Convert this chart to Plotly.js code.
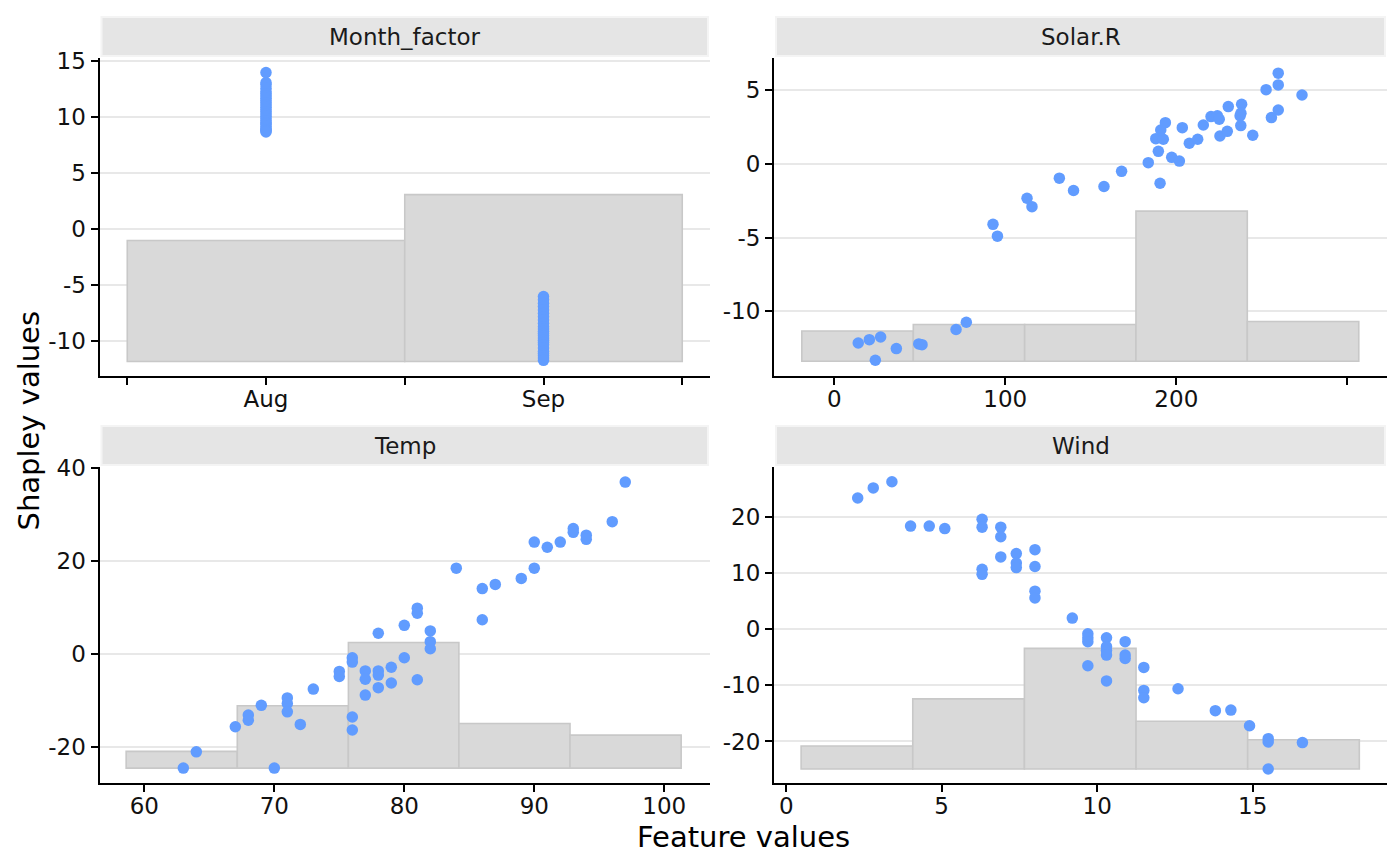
<!DOCTYPE html>
<html>
<head>
<meta charset="utf-8">
<script src="https://cdn.plot.ly/plotly-3.0.1.min.js"></script>
<style>html,body{margin:0;padding:0;background:#fff;}#chart{width:1400px;height:866px;}</style>
</head>
<body>
<div id="chart"></div>
<script>
// ---------------- data ----------------
const facetNames = ['Month_factor', 'Solar.R', 'Temp', 'Wind'];

// Month_factor
const monthCategories = ['Aug', 'Sep'];
const monthAugShap = [14.0, 13.1, 12.9, 12.6, 12.3, 12.1, 11.9, 11.7, 11.5, 11.3, 11.1, 10.9, 10.7, 10.5, 10.3, 10.1, 9.9, 9.7, 9.5, 9.4, 9.2, 9.0, 8.9, 8.8, 8.7];
const monthSepShap = [-6.0, -6.3, -6.6, -6.9, -7.2, -7.5, -7.8, -8.1, -8.4, -8.7, -8.9, -9.1, -9.3, -9.5, -9.7, -9.9, -10.1, -10.3, -10.6, -10.9, -11.1, -11.3, -11.5, -11.7];
const monthBarTops = [-1.0, 3.1];
const monthBarBase = -11.8;
const monthXTickVals = [0.5, 1, 1.5, 2, 2.5];
const monthXTickText = ['', 'Aug', '', 'Sep', ''];
const monthYTickVals = [-10, -5, 0, 5, 10, 15];
const monthYTickText = ['-10', '-5', '0', '5', '10', '15'];

// Solar.R
const solarX = [14.0, 20.5, 27.1, 24.0, 36.3, 49.4, 51.3, 71.2, 77.2,
  92.8, 95.4, 112.7, 115.6, 131.6, 139.9, 157.7, 168.0,
  183.6, 190.5, 189.5, 188.0, 192.4, 190.9, 193.6, 197.3, 201.8, 203.5, 207.6, 212.5, 215.8, 220.3, 224.0, 225.1, 225.5, 229.8, 230.4,
  238.2, 237.8, 237.3, 237.7, 244.7, 252.5, 255.6, 259.6, 259.6, 259.6, 273.5];
const solarShap = [-12.16, -11.93, -11.75, -13.33, -12.54, -12.22, -12.27, -11.24, -10.75,
  -4.1, -4.9, -2.33, -2.9, -0.96, -1.8, -1.53, -0.5,
  0.09, -1.31, 0.86, 1.72, 1.68, 2.31, 2.81, 0.45, 0.2, 2.47, 1.41, 1.68, 2.65, 3.22, 3.27, 3.04, 1.9, 2.22, 3.9,
  4.06, 3.45, 3.27, 2.61, 1.95, 5.05, 3.15, 6.17, 5.37, 3.67, 4.69];
const solarBinEdges = [-19.0, 46.2, 111.3, 176.4, 241.5, 306.7];
const solarBarTops = [-11.34, -10.9, -10.9, -3.2, -10.7];
const solarBarBase = -13.4;
const solarXTickVals = [0, 100, 200, 300];
const solarXTickText = ['0', '100', '200', ''];
const solarYTickVals = [-10, -5, 0, 5];
const solarYTickText = ['-10', '-5', '0', '5'];

// Temp
const tempX = [63, 64, 67, 68, 68, 69, 70, 71, 71, 71, 72, 73, 75, 75, 76, 76, 76, 76, 77, 77, 77, 78, 78, 78, 78, 79, 79, 80, 80, 81, 81, 81, 82, 82, 82,
  84, 86, 86, 87, 89, 90, 90, 91, 92, 93, 93, 94, 94, 96, 97];
const tempShap = [-24.6, -21.1, -15.7, -13.2, -14.3, -11.1, -24.6, -9.5, -10.7, -12.5, -15.2, -7.6, -3.8, -4.9, -0.86, -1.8, -13.6, -16.4, -3.7, -5.5, -8.9, 4.4, -3.7, -4.6, -7.3, -2.9, -6.3, 6.1, -0.86, 9.8, 8.7, -5.6, 4.9, 2.6, 1.07,
  18.4, 14.0, 7.3, 14.9, 16.2, 18.4, 24.0, 22.9, 24.0, 26.9, 26.1, 25.5, 24.6, 28.4, 36.9];
const tempBinEdges = [58.6, 67.15, 75.7, 84.2, 92.75, 101.3];
const tempBarTops = [-21.0, -11.2, 2.4, -15.0, -17.5];
const tempBarBase = -24.6;
const tempXTickVals = [60, 70, 80, 90, 100];
const tempXTickText = ['60', '70', '80', '90', '100'];
const tempYTickVals = [-20, 0, 20, 40];
const tempYTickText = ['-20', '0', '20', '40'];

// Wind
const windX = [2.3, 2.8, 3.4, 4.0, 4.6, 5.1, 6.3, 6.3, 6.3, 6.3, 6.9, 6.9, 6.9, 7.4, 7.4, 7.4, 8.0, 8.0, 8.0, 8.0, 9.2,
  9.7, 9.7, 9.7, 9.7, 10.3, 10.3, 10.3, 10.3, 10.3, 10.9, 10.9, 10.9, 11.5, 11.5, 11.5, 12.6, 13.8, 14.3, 14.9, 15.5, 15.5, 15.5, 16.6];
const windShap = [23.4, 25.2, 26.3, 18.4, 18.4, 17.95, 19.6, 18.2, 10.7, 9.8, 18.2, 16.5, 12.9, 13.5, 11.8, 11.0, 14.2, 11.2, 6.8, 5.6, 2.0,
  -0.8, -1.5, -2.2, -6.5, -1.5, -3.1, -3.8, -4.6, -9.2, -2.2, -4.6, -5.2, -6.8, -10.9, -12.2, -10.6, -14.5, -14.4, -17.2, -19.5, -20.1, -24.9, -20.2];
const windBinEdges = [0.48, 4.07, 7.66, 11.25, 14.84, 18.43];
const windBarTops = [-20.8, -12.4, -3.4, -16.4, -19.7];
const windBarBase = -24.9;
const windXTickVals = [0, 5, 10, 15];
const windXTickText = ['0', '5', '10', '15'];
const windYTickVals = [-20, -10, 0, 10, 20];
const windYTickText = ['-20', '-10', '0', '10', '20'];

// ---------------- styling / layout ----------------
const W = 1400, H = 866;
const POINT = '#619CFF';
const BARFILL = '#d9d9d9';
const BARLINE = '#c8c8c8';
const FONT = 'DejaVu Sans, sans-serif';
const TICKSIZE = 23;

const colL = [99.5, 710], colR = [774, 1387];
const rowT = [58, 376], rowB = [467, 783];
const px2x = p => p / W;
const px2y = p => 1 - p / H;

function histTrace(edges, tops, base, ax) {
  const centers = [], widths = [], heights = [];
  for (let i = 0; i < tops.length; i++) {
    centers.push((edges[i] + edges[i + 1]) / 2);
    widths.push(edges[i + 1] - edges[i]);
    heights.push(tops[i] - base);
  }
  return {
    type: 'bar', x: centers, y: heights, base: base, width: widths,
    xaxis: 'x' + ax, yaxis: 'y' + ax,
    marker: {color: BARFILL, line: {color: BARLINE, width: 1.6}},
    hoverinfo: 'skip'
  };
}
function pointTrace(xs, ys, ax) {
  return {
    type: 'scatter', mode: 'markers', x: xs, y: ys,
    xaxis: 'x' + ax, yaxis: 'y' + ax,
    marker: {color: POINT, size: 11.5, line: {width: 0}},
    hoverinfo: 'skip'
  };
}

// month categories mapped to their positions on the axis
const monthPos = monthCategories.map((c, i) => i + 1);
const monthEdges = [monthPos[0] - 0.5, monthPos[0] + 0.5, monthPos[1] + 0.5];
const monthPtX = monthAugShap.map(() => monthPos[0]).concat(monthSepShap.map(() => monthPos[1]));
const monthPtY = monthAugShap.concat(monthSepShap);

const traces = [
  histTrace(monthEdges, monthBarTops, monthBarBase, ''),
  pointTrace(monthPtX, monthPtY, ''),
  histTrace(solarBinEdges, solarBarTops, solarBarBase, '2'),
  pointTrace(solarX, solarShap, '2'),
  histTrace(tempBinEdges, tempBarTops, tempBarBase, '3'),
  pointTrace(tempX, tempShap, '3'),
  histTrace(windBinEdges, windBarTops, windBarBase, '4'),
  pointTrace(windX, windShap, '4')
];

function xax(dom, range, tv, tt, anchor) {
  return {
    domain: [px2x(dom[0]), px2x(dom[1])], range: range, anchor: anchor,
    showgrid: false, zeroline: false, showline: true, linecolor: '#000', linewidth: 2,
    ticks: 'outside', ticklen: 7, tickwidth: 2, tickcolor: '#000',
    ticklabelstandoff: -6,
    tickmode: 'array', tickvals: tv, ticktext: tt,
    tickfont: {family: FONT, size: TICKSIZE, color: '#111'}, fixedrange: true
  };
}
function yax(dom, range, tv, tt, anchor) {
  return {
    domain: [px2y(dom[1]), px2y(dom[0])], range: range, anchor: anchor,
    showgrid: true, gridcolor: '#e8e8e8', gridwidth: 2, zeroline: false,
    showline: true, linecolor: '#000', linewidth: 2,
    ticks: 'outside', ticklen: 7, tickwidth: 2, tickcolor: '#000',
    tickmode: 'array', tickvals: tv, ticktext: tt,
    tickfont: {family: FONT, size: TICKSIZE, color: '#111'}, fixedrange: true
  };
}

const stripT = [17, 56], stripB = [426, 465];
const panels = [
  {name: facetNames[0], col: colL, strip: stripT},
  {name: facetNames[1], col: colR, strip: stripT},
  {name: facetNames[2], col: colL, strip: stripB},
  {name: facetNames[3], col: colR, strip: stripB}
];
const shapes = [], annotations = [];
panels.forEach(p => {
  shapes.push({type: 'rect', xref: 'paper', yref: 'paper',
    x0: px2x(p.col[0] + 1), x1: px2x(p.col[1] - 1), y0: px2y(p.strip[1] + 1), y1: px2y(p.strip[0] - 1),
    fillcolor: '#f4f4f4', line: {width: 0}, layer: 'below'});
  shapes.push({type: 'rect', xref: 'paper', yref: 'paper',
    x0: px2x(p.col[0] + 3), x1: px2x(p.col[1] - 3), y0: px2y(p.strip[1] - 1), y1: px2y(p.strip[0] + 1),
    fillcolor: '#e5e5e5', line: {width: 0}, layer: 'below'});
  annotations.push({text: p.name, xref: 'paper', yref: 'paper', showarrow: false,
    x: px2x((p.col[0] + p.col[1]) / 2), y: px2y((p.strip[0] + p.strip[1]) / 2),
    xanchor: 'center', yanchor: 'middle', font: {family: FONT, size: TICKSIZE, color: '#1a1a1a'}});
});
annotations.push({text: 'Feature values', xref: 'paper', yref: 'paper', showarrow: false,
  x: px2x((colL[0] + colR[1]) / 2), y: px2y(837), xanchor: 'center', yanchor: 'middle',
  font: {family: FONT, size: 29, color: '#000'}});
annotations.push({text: 'Shapley values', xref: 'paper', yref: 'paper', showarrow: false, textangle: -90,
  x: px2x(28), y: px2y((rowT[0] + rowB[1]) / 2), xanchor: 'center', yanchor: 'middle',
  font: {family: FONT, size: 29, color: '#000'}});

const layout = {
  width: W, height: H, margin: {l: 0, r: 0, t: 0, b: 0},
  paper_bgcolor: '#fff', plot_bgcolor: '#fff', showlegend: false,
  font: {family: FONT},
  xaxis: xax(colL, [0.4, 2.6], monthXTickVals, monthXTickText, 'y'),
  yaxis: yax(rowT, [-13.1, 15.3], monthYTickVals, monthYTickText, 'x'),
  xaxis2: xax(colR, [-35.26, 323.2], solarXTickVals, solarXTickText, 'y2'),
  yaxis2: yax(rowT, [-14.4, 7.2], solarYTickVals, solarYTickText, 'x2'),
  xaxis3: xax(colL, [56.55, 103.52], tempXTickVals, tempXTickText, 'y3'),
  yaxis3: yax(rowB, [-27.8, 40.15], tempYTickVals, tempYTickText, 'x3'),
  xaxis4: xax(colR, [-0.392, 19.32], windXTickVals, windXTickText, 'y4'),
  yaxis4: yax(rowB, [-27.4, 28.93], windYTickVals, windYTickText, 'x4'),
  shapes: shapes, annotations: annotations
};

Plotly.newPlot('chart', traces, layout, {displayModeBar: false, staticPlot: true});
</script>
</body>
</html>
